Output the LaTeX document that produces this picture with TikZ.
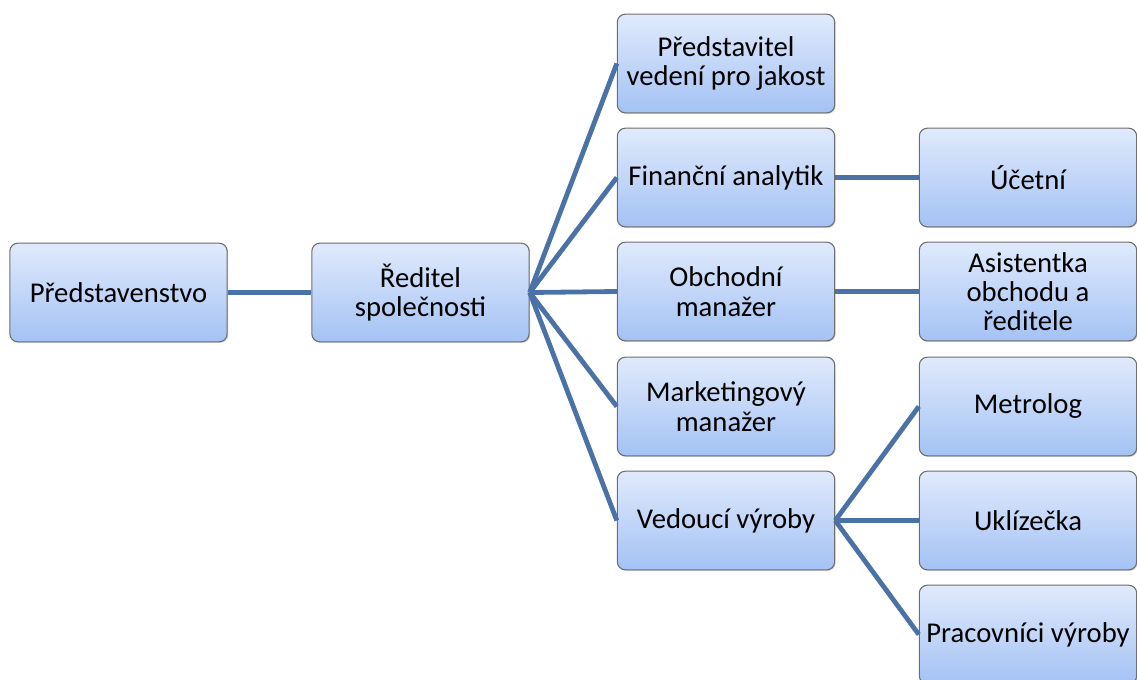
\documentclass[tikz,border=0pt]{standalone}
\usepackage{fontspec}
\setmainfont{Carlito}
\usepackage{tikz}
\usetikzlibrary{shadows}
\definecolor{boxtop}{RGB}{224,234,252}
\definecolor{boxbot}{RGB}{164,194,244}
\definecolor{boxline}{RGB}{110,110,110}
\definecolor{linkblue}{RGB}{74,114,166}

\begin{document}
\begin{tikzpicture}[
  x=0.75pt, y=-0.75pt,
  font=\fontsize{21.5}{22}\selectfont,
  post/.style={draw=boxline, line width=0.8pt, rounded corners=6pt,
    top color=boxtop, bottom color=boxbot, align=center,
    minimum width=163pt, minimum height=74pt, inner sep=1pt,
    drop shadow={opacity=0.35, shadow xshift=0.8pt, shadow yshift=-0.8pt}},
  link/.style={draw=linkblue, line width=3.6pt}
]
  \useasboundingbox (0,0) rectangle (1137,679);
  \clip (0,0) rectangle (1137,679);

  % board and director
  \node[post] (board) at (118.5,292.5) {Představenstvo};
  \node[post] (dir) at (420.5,292.5) {Ředitel\\společnosti};

  % second level
  \node[post] (qm)   at (726,63.5)  {Představitel\\vedení pro jakost};
  \node[post] (fin)  at (726,177.5) {Finanční analytik};
  \node[post] (sale) at (726,291.5) {Obchodní\\manažer};
  \node[post] (mkt)  at (726,406.5) {Marketingový\\manažer};
  \node[post] (prod) at (726,520.5) {Vedoucí výroby};

  % third level
  \node[post] (acc)   at (1028,177.5) {Účetní};
  \node[post] (asst)  at (1028,291.5) {Asistentka\\obchodu a\\ředitele};
  \node[post] (metro) at (1028,406.5) {Metrolog};
  \node[post] (clean) at (1028,520.5) {Uklízečka};
  \node[post] (work)  at (1028,634.5) {Pracovníci výroby};

  \draw[link] (board.east) -- (dir.west);
  \foreach \n in {qm,fin,sale,mkt,prod}
    \draw[link] (dir.east) -- (\n.west);
  \draw[link] (fin.east) -- (acc.west);
  \draw[link] (sale.east) -- (asst.west);
  \foreach \n in {metro,clean,work}
    \draw[link] (prod.east) -- (\n.west);
\end{tikzpicture}
\end{document}
